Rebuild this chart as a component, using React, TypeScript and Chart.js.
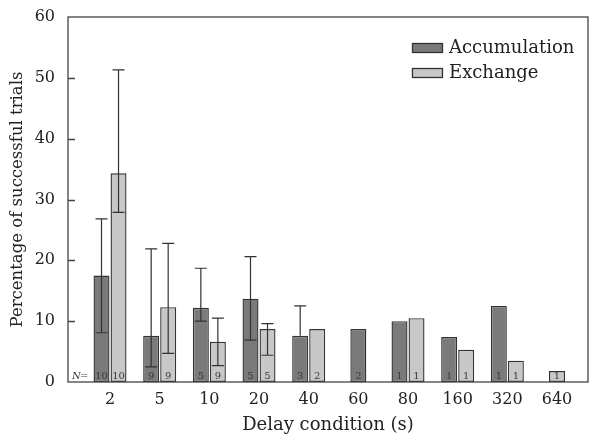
import React, { useEffect, useRef } from "react";
import { Chart, registerables } from "chart.js";

Chart.register(...registerables);

const categories = ["2", "5", "10", "20", "40", "60", "80", "160", "320", "640"];
const accumulation = [17.5, 7.6, 12.2, 13.7, 7.6, 8.7, 10.0, 7.4, 12.5, null];
const accErrHigh = [26.8, 21.9, 18.7, 20.6, 12.5, null, null, null, null, null];
const accErrLow = [8.1, 2.5, 10.0, 6.9, null, null, null, null, null, null];
const accN = [10, 9, 5, 5, 3, 2, 1, 1, 1, null];
const exchange = [34.3, 12.3, 6.6, 8.7, 8.7, null, 10.5, 5.3, 3.5, 1.8];
const excErrHigh = [51.3, 22.8, 10.5, 9.6, null, null, null, null, null, null];
const excErrLow = [27.9, 4.7, 2.7, 4.4, null, null, null, null, null, null];
const excN = [10, 9, 9, 5, 2, null, 1, 1, 1, 1];
const yTicks = [0, 10, 20, 30, 40, 50, 60];

const FONT = "'DejaVu Serif', serif";
const TEXT = "#222";
const LINE = "#333";

const errHigh = [accErrHigh, excErrHigh];
const errLow = [accErrLow, excErrLow];
const nLabels = [accN, excN];

const decorPlugin = {
  id: "decor",
  afterDatasetsDraw(chart: any) {
    const ctx = chart.ctx;
    const yScale = chart.scales.y;
    const area = chart.chartArea;
    ctx.save();
    // error bars
    ctx.strokeStyle = LINE;
    ctx.lineWidth = 1.2;
    chart.data.datasets.forEach((ds: any, di: number) => {
      const meta = chart.getDatasetMeta(di);
      meta.data.forEach((bar: any, i: number) => {
        const hi = errHigh[di][i];
        const lo = errLow[di][i];
        const v = ds.data[i].y;
        if (hi == null && lo == null) return;
        const x = bar.x;
        const yTop = yScale.getPixelForValue(hi != null ? hi : v);
        const yBot = yScale.getPixelForValue(lo != null ? lo : v);
        ctx.beginPath();
        ctx.moveTo(x, yTop);
        ctx.lineTo(x, yBot);
        if (hi != null) {
          ctx.moveTo(x - 6, yTop);
          ctx.lineTo(x + 6, yTop);
        }
        if (lo != null) {
          ctx.moveTo(x - 6, yBot);
          ctx.lineTo(x + 6, yBot);
        }
        ctx.stroke();
      });
    });
    // N labels
    ctx.fillStyle = "#3a3a3a";
    ctx.font = `10px ${FONT}`;
    ctx.textAlign = "center";
    ctx.textBaseline = "bottom";
    chart.data.datasets.forEach((ds: any, di: number) => {
      const meta = chart.getDatasetMeta(di);
      meta.data.forEach((bar: any, i: number) => {
        const n = nLabels[di][i];
        if (n == null) return;
        ctx.fillText(String(n), bar.x, area.bottom - 1);
      });
    });
    ctx.textAlign = "left";
    ctx.font = `italic 10px ${FONT}`;
    ctx.fillText("N", area.left + 4, area.bottom - 1);
    ctx.font = `10px ${FONT}`;
    ctx.fillText("=", area.left + 12, area.bottom - 1);
    // frame
    ctx.strokeStyle = "#444";
    ctx.lineWidth = 1.3;
    ctx.strokeRect(area.left, area.top, area.right - area.left, area.bottom - area.top);
    // inward y ticks
    ctx.beginPath();
    yTicks.forEach((t) => {
      if (t === yTicks[0] || t === yTicks[yTicks.length - 1]) return;
      const y = Math.round(yScale.getPixelForValue(t)) + 0.5;
      ctx.moveTo(area.left, y);
      ctx.lineTo(area.left + 7, y);
    });
    ctx.stroke();
    // legend
    ctx.font = `18px ${FONT}`;
    ctx.textBaseline = "middle";
    ctx.textAlign = "left";
    chart.data.datasets.forEach((ds: any, di: number) => {
      const cy = 48 + di * 25;
      ctx.fillStyle = ds.backgroundColor;
      ctx.fillRect(412, cy - 5, 31, 10);
      ctx.strokeStyle = LINE;
      ctx.lineWidth = 1.3;
      ctx.strokeRect(412.5, cy - 4.5, 30, 9);
      ctx.fillStyle = TEXT;
      ctx.fillText(ds.label, 449, cy);
    });
    ctx.restore();
  },
};

export default function App() {
  const ref = useRef<HTMLCanvasElement>(null);
  useEffect(() => {
    if (!ref.current) return;
    const chart = new Chart(ref.current, {
      type: "bar",
      data: {
        datasets: [
          {
            label: "Accumulation",
            data: accumulation.map((v, i) => ({ x: i, y: v })),
            backgroundColor: "#7a7a7a",
            borderColor: LINE,
            borderWidth: 1.4,
            borderSkipped: false,
          },
          {
            label: "Exchange",
            data: exchange.map((v, i) => ({ x: i, y: v })),
            backgroundColor: "#c8c8c8",
            borderColor: LINE,
            borderWidth: 1.4,
            borderSkipped: false,
          },
        ] as any,
      },
      options: {
        animation: false,
        responsive: false,
        skipNull: true,
        categoryPercentage: 0.685,
        barPercentage: 0.94,
        maxBarThickness: 16,
        layout: { padding: { top: 17, right: 12, left: 0, bottom: 0 } },
        plugins: { legend: { display: false }, tooltip: { enabled: false } },
        scales: {
          x: {
            type: "linear",
            offset: false,
            min: -0.846,
            max: 9.624,
            grid: { display: false },
            border: { display: false },
            afterBuildTicks: (scale: any) => {
              scale.ticks = categories.map((_, i) => ({ value: i }));
            },
            afterFit: (scale: any) => {
              scale.height = 63;
            },
            ticks: {
              autoSkip: false,
              maxRotation: 0,
              padding: 0,
              color: TEXT,
              font: { family: FONT, size: 16 },
              callback: (v: any) => categories[v] ?? "",
            },
            title: {
              display: true,
              text: "Delay condition (s)",
              color: TEXT,
              font: { family: FONT, size: 18 },
              padding: { top: 0, bottom: 9 },
            },
          },
          y: {
            min: 0,
            max: 60,
            grid: { display: false },
            border: { display: false },
            afterBuildTicks: (scale: any) => {
              scale.ticks = yTicks.map((v) => ({ value: v }));
            },
            afterFit: (scale: any) => {
              scale.width = 68;
            },
            ticks: {
              padding: 5,
              color: TEXT,
              font: { family: FONT, size: 16 },
            },
            title: {
              display: true,
              text: "Percentage of successful trials",
              color: TEXT,
              font: { family: FONT, size: 16.5 },
              padding: { top: 8, bottom: 0 },
            },
          },
        },
      } as any,
      plugins: [decorPlugin],
    });
    return () => chart.destroy();
  }, []);
  return (
    <canvas
      ref={ref}
      width={600}
      height={445}
      style={{ position: "absolute", left: 0, top: 0, display: "block" }}
    />
  );
}
